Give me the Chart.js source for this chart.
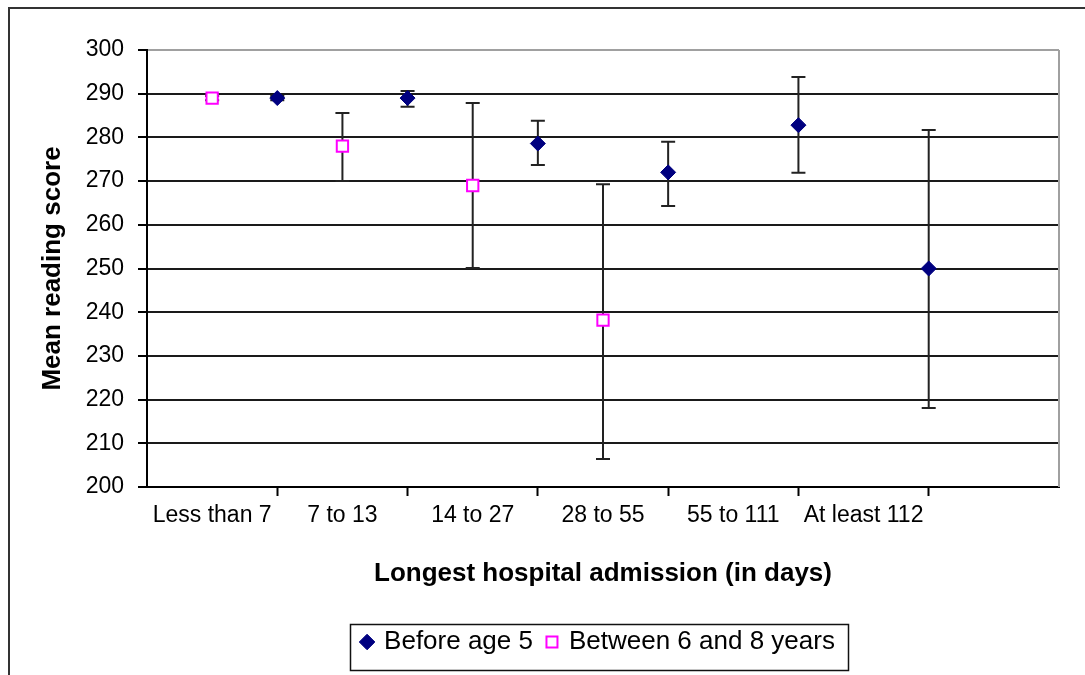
<!DOCTYPE html>
<html>
<head>
<meta charset="utf-8">
<script src="https://cdn.jsdelivr.net/npm/chart.js@4/dist/chart.umd.min.js"></script>
<style>
  body { margin: 0; background: #fff; }
  #wrap { position: relative; width: 1085px; height: 675px; }
</style>
</head>
<body>
<div id="wrap"><canvas id="readingChart"></canvas></div>
<script>
// Categories (x axis) and series values
const categories = ['Less than 7', '7 to 13', '14 to 27', '28 to 55', '55 to 111', 'At least 112'];

const before5Mean = [289, 289, 278.6, 272, 282.8, 250];
const before5Low  = [288.5, 287, 273.7, 264.3, 271.9, 218.1];
const before5High = [289.5, 290.6, 283.8, 279, 293.8, 281.7];

const between68Mean = [289, 278, 269, 238.2];
const between68Low  = [288.5, 270, 250.1, 206.4];
const between68High = [289.5, 285.6, 287.9, 269.3];

const yTicks = [200, 210, 220, 230, 240, 250, 260, 270, 280, 290, 300];

const labelFont = { family: "'Liberation Sans', Arial, sans-serif", size: 23 };
const titleFont = { family: "'Liberation Sans', Arial, sans-serif", size: 26, weight: 'bold' };

// "Before age 5" sits on the category boundary, "Between 6 and 8" in the middle of the slot
const before5Points = before5Mean.map((m, i) => ({ x: i + 1, y: m, lo: before5Low[i], hi: before5High[i] }));
const between68Points = between68Mean.map((m, i) => ({ x: i + 0.5, y: m, lo: between68Low[i], hi: between68High[i] }));

// Error bars, drawn under the markers
const errorBars = {
    id: 'errorBars',
    beforeDatasetsDraw(chart) {
        const ctx = chart.ctx;
        const xs = chart.scales.x, ys = chart.scales.y;
        ctx.save();
        ctx.strokeStyle = '#222';
        ctx.lineWidth = 2;
        chart.data.datasets.forEach(ds => {
            ds.data.forEach(p => {
                const x = xs.getPixelForValue(p.x);
                const top = ys.getPixelForValue(p.hi);
                const bot = ys.getPixelForValue(p.lo);
                ctx.beginPath();
                ctx.moveTo(x, top); ctx.lineTo(x, bot);
                ctx.moveTo(x - 7, top); ctx.lineTo(x + 7, top);
                ctx.moveTo(x - 7, bot); ctx.lineTo(x + 7, bot);
                ctx.stroke();
            });
        });
        ctx.restore();
    }
};

// Outer frame, right plot border and legend box
const frame = {
    id: 'frame',
    afterLayout(chart) {
        // centre the legend under the plot rather than the whole canvas
        chart.legend.left = 139;
    },
    beforeDraw(chart) {
        const ctx = chart.ctx;
        ctx.save();
        ctx.fillStyle = '#fff';
        ctx.fillRect(0, 0, chart.width, chart.height);
        ctx.fillStyle = '#333';
        ctx.fillRect(8, 7, 2, chart.height);
        ctx.fillRect(8, 7, chart.width, 2);
        ctx.restore();
    },
    beforeDatasetsDraw(chart) {
        const ctx = chart.ctx;
        const a = chart.chartArea;
        ctx.save();
        ctx.strokeStyle = '#a0a0a0';
        ctx.lineWidth = 2;
        ctx.beginPath();
        ctx.moveTo(a.right, a.top);
        ctx.lineTo(a.right, a.bottom);
        ctx.stroke();
        ctx.restore();
    },
    afterDraw(chart) {
        const boxes = chart.legend.legendHitBoxes;
        if (!boxes || !boxes.length) return;
        const left = Math.min(...boxes.map(b => b.left)) - 13;
        const right = Math.max(...boxes.map(b => b.left + b.width)) + 13;
        const top = Math.min(...boxes.map(b => b.top)) - 5;
        const bottom = Math.max(...boxes.map(b => b.top + b.height)) + 15;
        const ctx = chart.ctx;
        ctx.save();
        ctx.strokeStyle = '#111';
        ctx.lineWidth = 1.5;
        ctx.strokeRect(Math.round(left) + 0.5, Math.round(top) + 0.5, Math.round(right - left), Math.round(bottom - top));
        ctx.restore();
    }
};

const ctx = document.getElementById('readingChart').getContext('2d');
const readingChart = new Chart(ctx, {
    type: 'scatter',
    data: {
        datasets: [{
            label: 'Before age 5',
            data: before5Points,
            pointStyle: 'rectRot',
            pointRadius: 7.5,
            pointHoverRadius: 7.5,
            backgroundColor: '#000080',
            borderColor: '#000080',
            borderWidth: 1
        }, {
            label: 'Between 6 and 8 years',
            data: between68Points,
            pointStyle: 'rect',
            pointRadius: 8,
            pointHoverRadius: 8,
            backgroundColor: '#ffffff',
            borderColor: '#ff00ff',
            borderWidth: 2
        }]
    },
    options: {
        responsive: true,
        maintainAspectRatio: false,
        animation: false,
        layout: { padding: { left: 0, right: 26, top: 50, bottom: 10 } },
        plugins: {
            tooltip: { enabled: false },
            legend: {
                position: 'bottom',
                labels: {
                    usePointStyle: true,
                    boxWidth: 8,
                    boxHeight: 11,
                    padding: 15,
                    color: '#000',
                    font: { family: labelFont.family, size: 26 }
                }
            }
        },
        scales: {
            x: {
                type: 'linear',
                min: 0,
                max: 7,
                afterBuildTicks(scale) {
                    scale.ticks = [];
                    for (let v = 0; v <= 14; v++) scale.ticks.push({ value: v / 2 });
                },
                afterFit(scale) { scale.height = 127; },
                ticks: {
                    autoSkip: false,
                    maxRotation: 0,
                    padding: 6,
                    color: '#000',
                    font: labelFont,
                    callback(value) {
                        const i = value - 0.5;
                        return Number.isInteger(i) && categories[i] ? categories[i] : '';
                    }
                },
                grid: {
                    drawOnChartArea: false,
                    drawTicks: true,
                    tickLength: 9,
                    tickWidth: 2,
                    tickColor: c => (Number.isInteger(c.tick.value) && c.tick.value > 0 && c.tick.value < 7) ? '#000' : 'rgba(0,0,0,0)'
                },
                border: { color: '#000', width: 2 },
                title: {
                    display: true,
                    text: 'Longest hospital admission (in days)',
                    color: '#000',
                    font: titleFont,
                    padding: { top: 0, bottom: 25 }
                }
            },
            y: {
                min: 200,
                max: 300,
                afterBuildTicks(scale) {
                    scale.ticks = yTicks.map(v => ({ value: v }));
                },
                afterFit(scale) { scale.width = 147; },
                ticks: {
                    padding: 14,
                    color: '#000',
                    font: labelFont
                },
                grid: {
                    color: c => c.tick && c.tick.value === 300 ? '#a0a0a0' : '#1a1a1a',
                    lineWidth: 2,
                    tickLength: 9,
                    tickColor: '#000',
                    tickWidth: 2
                },
                border: { color: '#000', width: 2 },
                title: {
                    display: true,
                    text: 'Mean reading score',
                    color: '#000',
                    font: titleFont,
                    padding: { top: 37, bottom: 0 }
                }
            }
        }
    },
    plugins: [frame, errorBars]
});
</script>
</body>
</html>
